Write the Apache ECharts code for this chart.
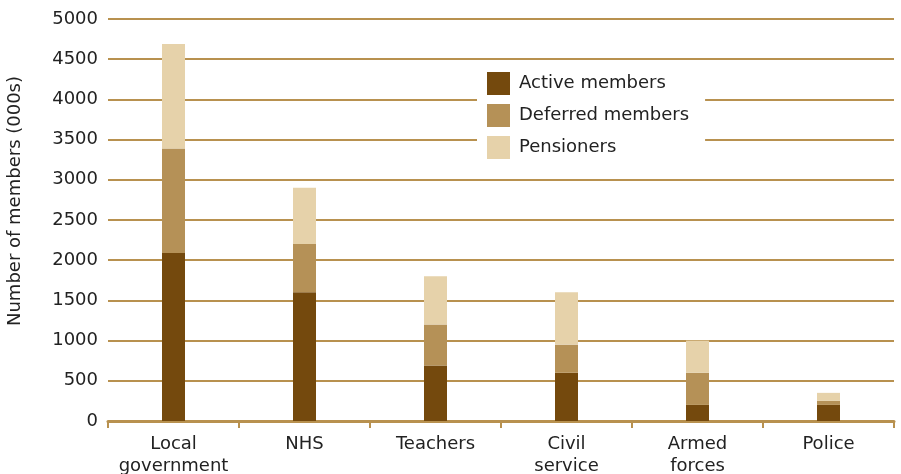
<!DOCTYPE html>
<html>
<head>
<meta charset="utf-8">
<script src="https://cdn.jsdelivr.net/npm/echarts@6/dist/echarts.min.js"></script>
<style>
  html, body { margin: 0; padding: 0; background: #fff; }
  #chart { width: 901px; height: 474px; }
</style>
</head>
<body>
<div id="chart"></div>
<script>
var categories = ['Local\ngovernment', 'NHS', 'Teachers', 'Civil\nservice', 'Armed\nforces', 'Police'];
var activeMembers = [2090, 1600, 690, 600, 200, 200];
var deferredMembers = [1300, 600, 510, 350, 400, 50];
var pensioners = [1300, 700, 600, 650, 400, 100];
var yTicks = [0, 500, 1000, 1500, 2000, 2500, 3000, 3500, 4000, 4500, 5000];

var chart = echarts.init(document.getElementById('chart'));
var font = '"DejaVu Sans", sans-serif';

var option = {
  animation: false,
  textStyle: { fontFamily: font },
  color: ['#74490d', '#b59157', '#e6d2aa'],
  grid: { left: 108, right: 7, top: 19, bottom: 53, outerBoundsMode: 'none', containLabel: false },
  legend: {
    orient: 'vertical',
    left: 477,
    top: 66,
    padding: [6, 16, 6, 10],
    backgroundColor: '#fff',
    itemWidth: 23,
    itemHeight: 23,
    itemGap: 9,
    icon: 'rect',
    textStyle: { fontSize: 18, color: '#222', fontFamily: font, padding: [0, 0, 0, 4] },
    data: ['Active members', 'Deferred members', 'Pensioners']
  },
  xAxis: {
    type: 'category',
    data: categories,
    axisLine: { lineStyle: { color: '#b8914f', width: 3 } },
    axisTick: { show: true, length: 7, lineStyle: { color: '#b8914f', width: 2 } },
    axisLabel: { interval: 0, fontSize: 18, color: '#222', lineHeight: 22, margin: 12 }
  },
  yAxis: {
    type: 'value',
    min: 0,
    max: 5000,
    interval: 500,
    name: 'Number of members (000s)',
    nameLocation: 'middle',
    nameGap: 84,
    nameTextStyle: { fontSize: 18, color: '#222', padding: [0, 0, 0, 38] },
    axisLine: { show: false },
    axisTick: { show: false },
    axisLabel: {
      fontSize: 18, color: '#222', margin: 10,
      formatter: function (v) { return yTicks.indexOf(v) >= 0 ? String(v) : ''; }
    },
    splitLine: { lineStyle: { color: '#b8914f', width: 2 } }
  },
  series: [
    { name: 'Active members', type: 'bar', stack: 'm', barWidth: 23, data: activeMembers },
    { name: 'Deferred members', type: 'bar', stack: 'm', barWidth: 23, data: deferredMembers },
    { name: 'Pensioners', type: 'bar', stack: 'm', barWidth: 23, data: pensioners }
  ]
};
chart.setOption(option);
</script>
</body>
</html>
